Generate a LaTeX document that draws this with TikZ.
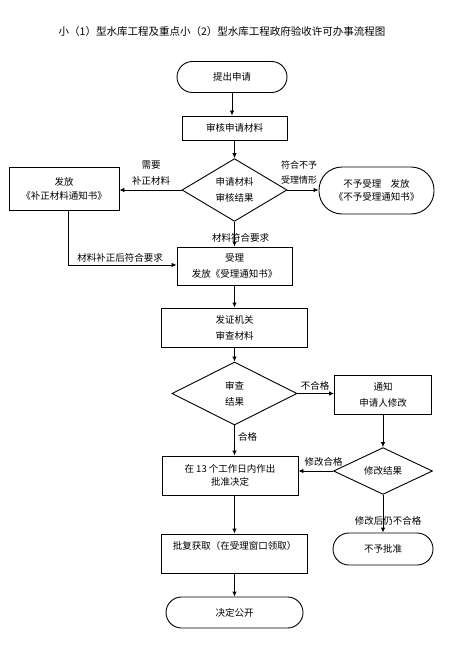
\documentclass[tikz,border=0pt]{standalone}
\usepackage{fontspec}
\setmainfont{Noto Sans CJK SC}
\usetikzlibrary{shapes.geometric,arrows.meta}
\begin{document}
\begin{tikzpicture}[x=1pt,y=-1pt,
  every node/.style={font=\fontsize{9.5}{16}\selectfont},
  boxnode/.style={draw,line width=0.9pt,rectangle,align=center,inner sep=0pt},
  termnode/.style={draw,line width=0.9pt,rectangle,align=center,inner sep=0pt},
  decnode/.style={draw,line width=0.9pt,diamond,align=center,inner sep=0pt},
  lbl/.style={inner sep=0pt,align=center},
  arr/.style={line width=0.9pt,-{Latex[length=5pt,width=4.5pt]}}]
\useasboundingbox (0,0) rectangle (472,650);
\node[lbl,font=\fontsize{10.5}{13}\selectfont] (title) at (222,32) {小（1）型水库工程及重点小（2）型水库工程政府验收许可办事流程图};
\node[termnode,minimum width=110,minimum height=31,rounded corners=15.5pt] (start) at (232,77) {提出申请};
\node[boxnode,minimum width=105,minimum height=24] (check) at (234.5,128) {审核申请材料};
\node[decnode,minimum width=105,minimum height=62] (d1) at (234.5,190) {申请材料\\审核结果};
\node[boxnode,minimum width=110,minimum height=43,font=\fontsize{9.5}{14}\selectfont] (supp) at (64,188.5) {发放\\《补正材料通知书》};
\node[termnode,minimum width=115,minimum height=47,rounded corners=23pt,font=\fontsize{9.5}{13}\selectfont] (reject) at (376.5,190.5) {不予受理\quad 发放\\《不予受理通知书》};
\node[boxnode,minimum width=115,minimum height=38] (accept) at (234.5,266) {受理\\发放《受理通知书》};
\node[boxnode,minimum width=146,minimum height=39] (review) at (234.5,327.5) {发证机关\\审查材料};
\node[decnode,minimum width=125,minimum height=63] (d2) at (234.5,393.5) {审查\\结果};
\node[boxnode,minimum width=97,minimum height=39] (notify) at (383,394.5) {通知\\申请人修改};
\node[boxnode,minimum width=136,minimum height=39,font=\fontsize{9.5}{12.5}\selectfont] (decide) at (230,475.5) {在 13 个工作日内作出\\批准决定};
\node[decnode,minimum width=99,minimum height=46] (d3) at (383,471) {修改结果};
\node[termnode,minimum width=100,minimum height=32,rounded corners=16pt] (noappr) at (383,549) {不予批准};
\node[boxnode,minimum width=146,text height=15pt,text depth=24pt] (obtain) at (234.5,553.5) {批复获取（在受理窗口领取）};
\node[termnode,minimum width=137,minimum height=31,rounded corners=15.5pt] (publish) at (234.5,612.5) {决定公开};
% labels
\node[lbl,font=\fontsize{9.5}{15.5}\selectfont] (l1) at (151,173) {需要\\补正材料};
\node[lbl,font=\fontsize{9}{14.5}\selectfont] (l2) at (299,172.5) {符合不予\\受理情形};
\node[lbl] (l3) at (240.5,238) {材料符合要求};
\node[lbl] (l4) at (120,258) {材料补正后符合要求};
\node[lbl] (l5) at (315,386) {不合格};
\node[lbl,anchor=west] (l6) at (238,437) {合格};
\node[lbl] (l7) at (323.5,462) {修改合格};
\node[lbl] (l8) at (388,521) {修改后仍不合格};
\coordinate (c1) at (68,265);
% connectors
\draw[arr] (start.south) -- (start.south |- check.north);
\draw[arr] (check.south) -- (d1.north);
\draw[arr] (d1.west) -- (supp.east |- d1.west);
\draw[arr] (d1.east) -- (reject.west |- d1.east);
\draw[arr] (d1.south) -- (d1.south |- accept.north);
\draw[line width=0.9pt] (supp.south -| c1) -- (c1);
\draw[arr] (c1) -- (accept.west |- c1);
\draw[arr] (accept.south) -- (review.north);
\draw[arr] (review.south) -- (d2.north);
\draw[arr] (d2.east) -- (notify.west |- d2.east);
\draw[arr] (d2.south) -- (d2.south |- decide.north);
\draw[arr] (notify.south) -- (d3.north);
\draw[arr] (d3.west) -- (decide.east |- d3.west);
\draw[arr] (d3.south) -- (noappr.north);
\draw[arr] (obtain.north |- decide.south) -- (obtain.north);
\draw[arr] (obtain.south) -- (publish.north);
\end{tikzpicture}
\end{document}
